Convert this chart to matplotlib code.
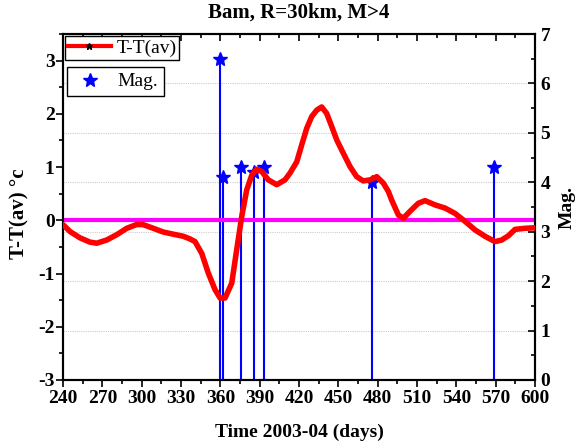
import matplotlib
matplotlib.use('Agg')
import matplotlib.pyplot as plt
from matplotlib.lines import Line2D
from matplotlib.ticker import MultipleLocator

plt.rcParams['font.family'] = ['Liberation Serif', 'DejaVu Serif']
plt.rcParams['font.weight'] = 'bold'
plt.rcParams['axes.unicode_minus'] = False

# temperature anomaly curve
days = [240, 245.3, 253, 260.6, 265.7, 273.3, 281, 288.6, 296, 301, 308.9, 316.5,
        324, 331.8, 336.9, 340.7, 345.8, 350.8, 355.9, 359.8, 363.6, 368.7, 372.5,
        376.3, 380.1, 384, 387.7, 391.5, 396.6, 403, 409.3, 413.2, 418.3, 422.1,
        425.9, 429.7, 433.5, 437.3, 441.1, 445, 448.8, 453.8, 458.9, 464, 469,
        474.2, 479.3, 484.3, 488.2, 490.7, 495.8, 499.6, 504.7, 511, 516.1, 523.8,
        531.4, 539, 546.7, 554.3, 561.9, 569.5, 574.6, 579.7, 584.8, 592.4, 600]
temp = [-0.08, -0.21, -0.33, -0.41, -0.43, -0.37, -0.27, -0.15, -0.08, -0.08,
        -0.15, -0.22, -0.26, -0.30, -0.35, -0.40, -0.62, -0.99, -1.30, -1.46,
        -1.46, -1.18, -0.55, 0.07, 0.57, 0.85, 0.96, 0.92, 0.76, 0.67, 0.76, 0.89,
        1.10, 1.42, 1.73, 1.95, 2.07, 2.13, 2.01, 1.76, 1.51, 1.26, 1.01, 0.82,
        0.74, 0.76, 0.82, 0.70, 0.54, 0.38, 0.10, 0.04, 0.17, 0.32, 0.37, 0.29,
        0.23, 0.13, -0.02, -0.18, -0.30, -0.40, -0.37, -0.29, -0.17, -0.15, -0.14]

# earthquakes
eq_days = [360, 362, 376, 386, 393, 476, 569]
eq_mag = [6.5, 4.1, 4.3, 4.2, 4.3, 4.0, 4.3]

fig = plt.figure(figsize=(5.75, 4.48), dpi=100)
ax = fig.add_axes([0.1096, 0.1518, 0.8208, 0.7722])
ax2 = ax.twinx()

# left axis
ax.set_xlim(240, 600)
ax.set_ylim(-3, 3.5)
ax.set_zorder(ax2.get_zorder() + 1)
ax.patch.set_visible(False)
ax.axhline(0, color='#ff00ff', lw=3, zorder=2)
ax.plot(days, temp, color='red', lw=4, solid_capstyle='round',
        solid_joinstyle='round', zorder=3)

# right axis: stems
ax2.set_ylim(0, 7)
ax2.yaxis.grid(True, color='#cccccc', ls=(0, (1, 1)), lw=0.8)
ax2.vlines(eq_days, 0, eq_mag, color='blue', lw=1.5)
ax2.plot(eq_days, eq_mag, ls='none', marker='*', ms=10, color='blue')

ax.xaxis.set_major_locator(MultipleLocator(30))
ax.xaxis.set_minor_locator(MultipleLocator(15))
ax.yaxis.set_major_locator(MultipleLocator(1))
ax.yaxis.set_minor_locator(MultipleLocator(0.5))
ax2.yaxis.set_major_locator(MultipleLocator(1))
ax2.yaxis.set_minor_locator(MultipleLocator(0.5))

ax.tick_params(axis='x', which='both', direction='out', top=True, labelsize=14, pad=2)
ax.tick_params(axis='x', which='major', length=5, width=1.2)
ax.tick_params(axis='x', which='minor', length=3, width=1.2)
ax.tick_params(axis='y', which='major', direction='out', length=5, width=1.2, labelsize=14, pad=1)
ax.tick_params(axis='y', which='minor', direction='out', length=3, width=1.2)
ax2.tick_params(axis='y', which='major', direction='in', length=5, width=1.2, labelsize=14, pad=4)
ax2.tick_params(axis='y', which='minor', direction='in', length=3, width=1.2)
ax2.tick_params(axis='x', which='both', top=False)
# top ticks point inward
for t in ax.xaxis.get_major_ticks() + ax.xaxis.get_minor_ticks():
    t.tick2line.set_marker(3)

for a in (ax, ax2):
    for s in a.spines.values():
        s.set_linewidth(1.5)

ax.set_xlabel('Time 2003-04 (days)', fontsize=14, fontweight='bold', labelpad=12)
ax.set_ylabel('T-T(av) °c', fontsize=15, fontweight='bold')
ax.yaxis.set_label_coords(-0.072, 0.48)
ax2.set_ylabel('Mag.', fontsize=14, fontweight='bold', labelpad=6)
ax.set_title('Bam, R=30km, M>4', fontsize=15, fontweight='bold', pad=12)

h1 = Line2D([], [], color='red', lw=3, marker='*', mfc='black', mec='black', ms=5)
leg1 = ax.legend([h1], ['T-T(av)'], loc='upper left', bbox_to_anchor=(0.004, 0.994),
                 prop={'weight': 'normal', 'size': 14}, fancybox=False, edgecolor='black',
                 framealpha=1, borderpad=0.15, handlelength=2.2, handletextpad=0.3,
                 borderaxespad=0.0)
leg1.get_frame().set_linewidth(1.0)
ax.add_artist(leg1)
h2 = Line2D([], [], ls='none', color='blue', marker='*', ms=10)
leg2 = ax.legend([h2], ['Mag.'], loc='upper left', bbox_to_anchor=(0.0085, 0.905),
                 prop={'weight': 'normal', 'size': 14}, fancybox=False, edgecolor='black',
                 framealpha=1, borderpad=0.3, handlelength=1.8, handletextpad=0.5,
                 borderaxespad=0.0)
leg2.get_frame().set_linewidth(1.0)

fig.savefig('out.png', dpi=100)
